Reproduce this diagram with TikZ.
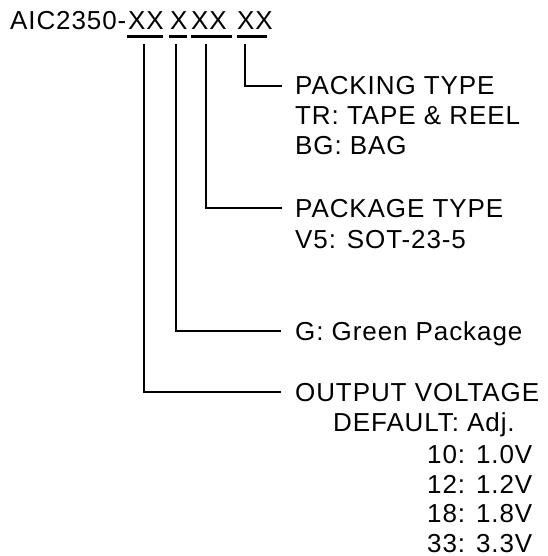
\documentclass[tikz,border=0pt]{standalone}
\usepackage{fontspec}
\setmainfont{Liberation Sans}[LetterSpace=3.5]
\tikzset{
	txt/.style={anchor=base west, inner sep=0pt},
	head/.style={txt, text height=18pt, text depth=0pt},
	lead/.style={line width=2pt},
	uline/.style={line width=3pt}
}
\begin{document}
\begin{tikzpicture}[x=1pt, y=-1pt, font=\fontsize{26}{30}\selectfont]
			\useasboundingbox (0,0) rectangle (547,556);
			% part number
			\node[txt] (pn) at (10,30) {AIC2350-};
			\node[txt] (g1) at (128,30) {XX};
			\node[txt] (g2) at (170,30) {X};
			\node[txt] (g3) at (191,30) {XX};
			\node[txt] (g4) at (237,30) {XX};
			\draw [uline] (127,37) -- (163,37);
			\draw [uline] (169,37) -- (187,37);
			\draw [uline] (191,37) -- (232,37);
			\draw [uline] (237,37) -- (267,37);
			% fields
			\node[head] (pack) at (295,95) {PACKING TYPE};
			\node[txt] (tr) at (295,125) {TR: TAPE \& REEL};
			\node[txt] (bg) at (295,155) {BG: BAG};
			\node[head] (pkg) at (295,217) {PACKAGE TYPE};
			\node[txt] (v5) at (295,248) {V5: SOT-23-5};
			\node[head] (grn) at (295,340) {G: Green Package};
			\node[head] (vout) at (295,401) {OUTPUT VOLTAGE};
			\node[txt] (def) at (333,431) {DEFAULT: Adj.};
			\node[txt] (v10) at (427,463) {10: 1.0V};
			\node[txt] (v12) at (427,493) {12: 1.2V};
			\node[txt] (v18) at (427,522) {18: 1.8V};
			\node[txt] (v33) at (427,552) {33: 3.3V};
			% leaders
			\coordinate (t1) at (144,44);
			\coordinate (t2) at (176,44);
			\coordinate (t3) at (206,44);
			\coordinate (t4) at (245,44);
			\draw [lead] (t4) |- ([xshift=-13pt]pack.west);
			\draw [lead] (t3) |- ([xshift=-13pt]pkg.west);
			\draw [lead] (t2) |- ([xshift=-14pt]grn.west);
			\draw [lead] (t1) |- ([xshift=-14pt]vout.west);
		\end{tikzpicture}
\end{document}
